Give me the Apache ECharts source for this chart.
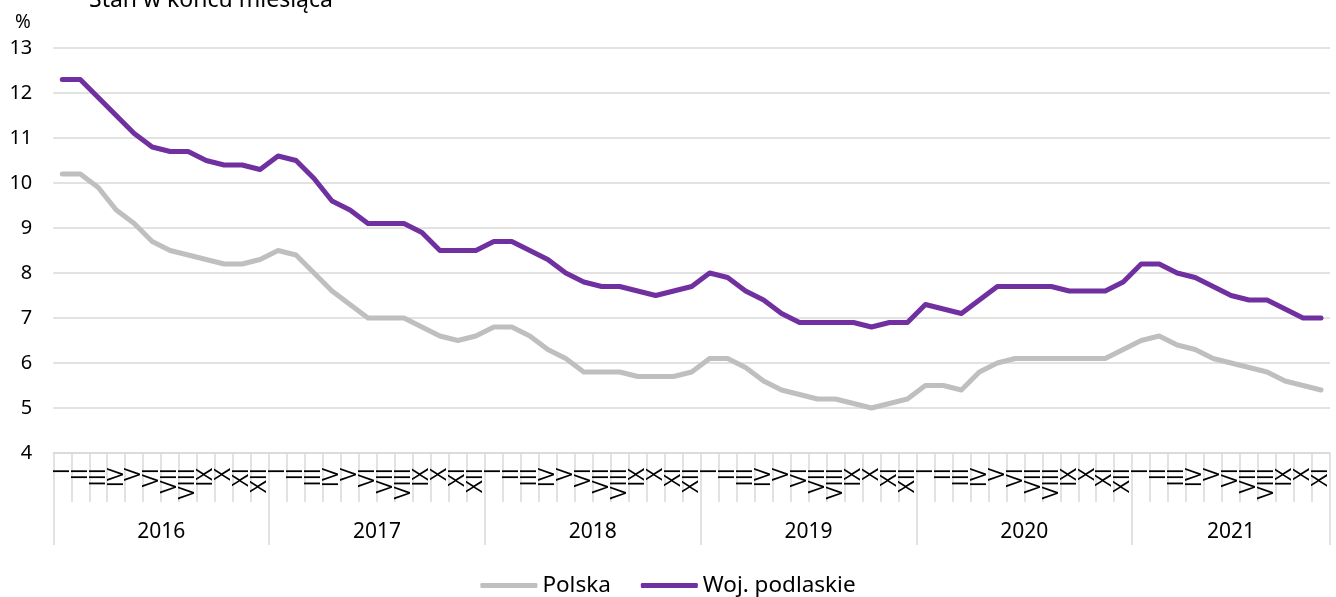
<!DOCTYPE html>
<html>
<head>
<meta charset="utf-8">
<script src="https://cdn.jsdelivr.net/npm/echarts@6/dist/echarts.min.js"></script>
<style>
html,body{margin:0;padding:0;background:#fff;}
#c{width:1336px;height:597px;}
</style>
</head>
<body>
<div id="c"></div>
<script>
// Data
const years = ['2016','2017','2018','2019','2020','2021'];
const monthNames = ['I','II','III','IV','V','VI','VII','VIII','IX','X','XI','XII'];
const monthsPerYear = [12,12,12,12,12,11];
const polska = [
  10.2,10.2,9.9,9.4,9.1,8.7,8.5,8.4,8.3,8.2,8.2,8.3,
  8.5,8.4,8.0,7.6,7.3,7.0,7.0,7.0,6.8,6.6,6.5,6.6,
  6.8,6.8,6.6,6.3,6.1,5.8,5.8,5.8,5.7,5.7,5.7,5.8,
  6.1,6.1,5.9,5.6,5.4,5.3,5.2,5.2,5.1,5.0,5.1,5.2,
  5.5,5.5,5.4,5.8,6.0,6.1,6.1,6.1,6.1,6.1,6.1,6.3,
  6.5,6.6,6.4,6.3,6.1,6.0,5.9,5.8,5.6,5.5,5.4
];
const podlaskie = [
  12.3,12.3,11.9,11.5,11.1,10.8,10.7,10.7,10.5,10.4,10.4,10.3,
  10.6,10.5,10.1,9.6,9.4,9.1,9.1,9.1,8.9,8.5,8.5,8.5,
  8.7,8.7,8.5,8.3,8.0,7.8,7.7,7.7,7.6,7.5,7.6,7.7,
  8.0,7.9,7.6,7.4,7.1,6.9,6.9,6.9,6.9,6.8,6.9,6.9,
  7.3,7.2,7.1,7.4,7.7,7.7,7.7,7.7,7.6,7.6,7.6,7.8,
  8.2,8.2,8.0,7.9,7.7,7.5,7.4,7.4,7.2,7.0,7.0
];
const yTicks = [4,5,6,7,8,9,10,11,12,13];

// Build categories
const monthCats = [];
const yearCats = [];
const yearStart = {};
const yearMid = {};
years.forEach((y, yi) => {
  const n = monthsPerYear[yi];
  const start = monthCats.length;
  for (let m = 0; m < n; m++) { monthCats.push(monthNames[m]); yearCats.push(y); }
  yearStart[start] = true;
  if (n % 2 === 0) yearMid[start + n / 2] = 'shift';
  else yearMid[start + (n - 1) / 2] = 'center';
});

const FONT = '"Noto Sans", "Open Sans", sans-serif';
const MFONT = '"Open Sans", "Noto Sans", sans-serif';
const GRIDC = '#d9d9d9';

const chart = echarts.init(document.getElementById('c'), null, {renderer: 'canvas'});
chart.setOption({
  animation: false,
  backgroundColor: '#fff',
  textStyle: {fontFamily: FONT, color: '#000'},
  title: [
    {text: 'Stan w końcu miesiąca', left: 84, top: -16,
     textStyle: {fontFamily: FONT, fontSize: 23, fontWeight: 'normal', color: '#000'}},
    {text: '%', left: 10, top: 8,
     textStyle: {fontFamily: FONT, fontSize: 19, fontWeight: 'normal', color: '#000'}}
  ],
  legend: {
    left: 'center', top: 569,
    itemWidth: 57, itemHeight: 5, itemGap: 30,
    icon: 'roundRect',
    textStyle: {fontFamily: FONT, fontSize: 22.5, color: '#000'},
    data: ['Polska', 'Woj. podlaskie']
  },
  grid: {left: 53.3, right: 6, top: 48, bottom: 144, containLabel: false, outerBoundsMode: 'none'},
  xAxis: [
    {
      type: 'category', data: monthCats, boundaryGap: true, position: 'bottom',
      axisLine: {show: true, lineStyle: {color: GRIDC, width: 1.5}},
      axisTick: {show: true, interval: 0, length: 49, lineStyle: {color: GRIDC, width: 1.5}},
      axisLabel: {interval: 0, rotate: 90, margin: 15, fontFamily: MFONT, fontSize: 22, color: '#000'}
    },
    {
      type: 'category', data: yearCats, boundaryGap: true, position: 'bottom', offset: 0,
      axisLine: {show: false},
      axisTick: {show: true, length: 92, interval: (i) => !!yearStart[i], lineStyle: {color: GRIDC, width: 1.5}},
      axisLabel: {
        interval: (i) => !!yearMid[i], margin: 69, fontFamily: FONT, fontSize: 21, color: '#000',
        formatter: (v, i) => yearMid[i] === 'shift' ? '{s|' + v + '}' : '{n|' + v + '}',
        rich: {
          s: {fontFamily: FONT, fontSize: 21, color: '#000', padding: [0, 18, 0, 0]},
          n: {fontFamily: FONT, fontSize: 21, color: '#000'}
        }
      }
    }
  ],
  yAxis: {
    type: 'value', min: yTicks[0], max: yTicks[yTicks.length - 1], interval: 1,
    axisLine: {show: false}, axisTick: {show: false},
    axisLabel: {margin: 21, fontFamily: FONT, fontSize: 20, color: '#000'},
    splitLine: {show: true, lineStyle: {color: GRIDC, width: 1.5}}
  },
  series: [
    {name: 'Polska', type: 'line', data: polska, xAxisIndex: 0, symbol: 'none',
     itemStyle: {color: '#bfbfbf'},
     lineStyle: {color: '#bfbfbf', width: 5, cap: 'round', join: 'round'}},
    {name: 'Woj. podlaskie', type: 'line', data: podlaskie, xAxisIndex: 0, symbol: 'none',
     itemStyle: {color: '#7030a0'},
     lineStyle: {color: '#7030a0', width: 5, cap: 'round', join: 'round'}}
  ]
});
</script>
</body>
</html>
